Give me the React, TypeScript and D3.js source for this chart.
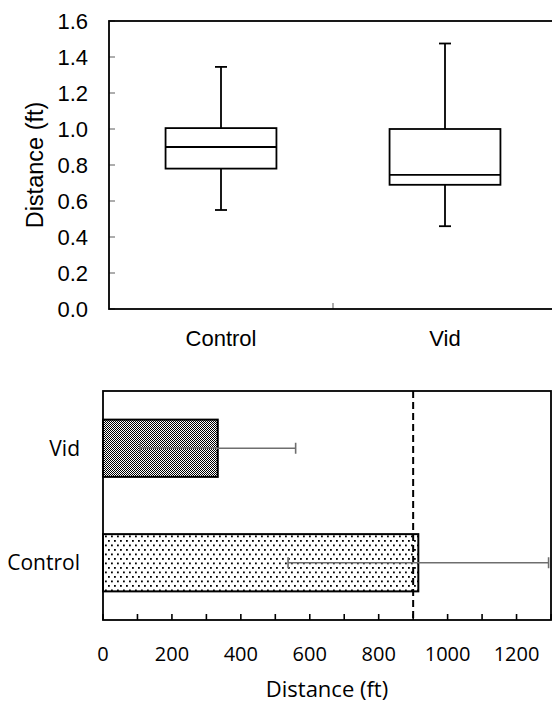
import React from 'react';
import * as d3 from 'd3';

// box plot (top): distance per group
const boxGroups = ['Control', 'Vid'];
const boxLow = [0.55, 0.46];
const boxQ1 = [0.78, 0.69];
const boxMedian = [0.9, 0.745];
const boxQ3 = [1.005, 1.0];
const boxHigh = [1.345, 1.475];
const boxTicks = [0, 0.2, 0.4, 0.6, 0.8, 1.0, 1.2, 1.4, 1.6];

// bar chart (bottom): mean distance with error
const barGroups = ['Vid', 'Control'];
const barMeans = [333, 915];
const barErrors = [226, 378];
const barTicks = [0, 200, 400, 600, 800, 1000, 1200];
const barMinorTicks = [0, 100, 200, 300, 400, 500, 600, 700, 800, 900, 1000, 1100, 1200, 1300];
const refLine = 900;

const W = 552;
const H = 704;

export default function App() {
  // ---- top chart
  const top = { left: 109, right: 557, top: 21, bottom: 309 };
  const y = d3.scaleLinear().domain([0, 1.6]).range([top.bottom, top.top]);
  const x = d3.scaleBand().domain(boxGroups).range([top.left, top.right]);
  const boxW = x.bandwidth() * 0.495;
  const capW = 12;

  // ---- bottom chart
  const bot = { left: 103, right: 551, top: 391, bottom: 620 };
  const bx = d3.scaleLinear().domain([0, 1300]).range([bot.left, bot.right]);
  const by = d3.scaleBand().domain(barGroups).range([bot.top, bot.bottom])
    .paddingInner(0.5).paddingOuter(0.25);
  const errCap = 11;

  const topFont = '"Liberation Sans", Arial, sans-serif';
  const botFont = '"Open Sans", sans-serif';

  return (
    <div style={{ position: 'absolute', left: 0, top: 0 }}>
      <svg width={W} height={H} style={{ display: 'block', background: '#fff' }}>
        <defs>
          <pattern id="checker" width={2} height={2} patternUnits="userSpaceOnUse">
            <rect width={2} height={2} fill="#fff" />
            <rect width={1} height={1} fill="#000" />
            <rect x={1} y={1} width={1} height={1} fill="#000" />
          </pattern>
          <pattern id="dots" width={6} height={9} patternUnits="userSpaceOnUse">
            <rect width={6} height={9} fill="#fff" />
            <rect x={0} y={0} width={1.8} height={1.8} fill="#000" />
            <rect x={3} y={4.5} width={1.8} height={1.8} fill="#000" />
          </pattern>
        </defs>

        {/* ===== top: box plot ===== */}
        <g fontFamily={topFont} fontSize={22} fill="#000">
          {boxTicks.map((t) => (
            <g key={t}>
              <line x1={top.left} x2={top.left + 6} y1={y(t)} y2={y(t)} stroke="#777" strokeWidth={1.2} />
              <text x={88} y={y(t)} dy="0.35em" textAnchor="end">{t.toFixed(1)}</text>
            </g>
          ))}
          <line
            x1={x('Vid')} x2={x('Vid')} y1={top.bottom} y2={top.bottom - 6}
            stroke="#777" strokeWidth={1.2}
          />
          <rect
            x={top.left} y={top.top} width={top.right - top.left} height={top.bottom - top.top}
            fill="none" stroke="#000" strokeWidth={1.8}
          />
          {boxGroups.map((g, i) => {
            const cx = (x(g) as number) + x.bandwidth() / 2;
            return (
              <g key={g} stroke="#000" strokeWidth={1.8} fill="none">
                <line x1={cx} x2={cx} y1={y(boxHigh[i])} y2={y(boxQ3[i])} />
                <line x1={cx} x2={cx} y1={y(boxQ1[i])} y2={y(boxLow[i])} />
                <line x1={cx - capW / 2} x2={cx + capW / 2} y1={y(boxHigh[i])} y2={y(boxHigh[i])} />
                <line x1={cx - capW / 2} x2={cx + capW / 2} y1={y(boxLow[i])} y2={y(boxLow[i])} />
                <rect
                  x={cx - boxW / 2} y={y(boxQ3[i])} width={boxW}
                  height={y(boxQ1[i]) - y(boxQ3[i])} fill="#fff"
                />
                <line x1={cx - boxW / 2} x2={cx + boxW / 2} y1={y(boxMedian[i])} y2={y(boxMedian[i])} />
                <text
                  x={cx} y={346} textAnchor="middle" stroke="none" fill="#000"
                >{g}</text>
              </g>
            );
          })}
          <text
            transform={`translate(43,${(top.top + top.bottom) / 2}) rotate(-90)`}
            textAnchor="middle" fontSize={23.5}
          >Distance (ft)</text>
        </g>

        {/* ===== bottom: bar chart ===== */}
        <g fontFamily={botFont} fontSize={20} fill="#000">
          {barGroups.map((g, i) => (
            <rect
              key={g}
              x={bx(0)} y={by(g)} width={bx(barMeans[i]) - bx(0)} height={by.bandwidth()}
              fill={g === 'Vid' ? 'url(#checker)' : 'url(#dots)'}
              stroke="#000" strokeWidth={2}
            />
          ))}
          <line
            x1={bx(refLine)} x2={bx(refLine)} y1={bot.top} y2={bot.bottom}
            stroke="#000" strokeWidth={2} strokeDasharray="7,4"
          />
          {barGroups.map((g, i) => {
            const cy = (by(g) as number) + by.bandwidth() / 2;
            const lo = bx(barMeans[i] - barErrors[i]);
            const hi = bx(barMeans[i] + barErrors[i]);
            return (
              <g key={g} stroke="#6e6e6e" strokeWidth={1.6}>
                <line x1={lo} x2={hi} y1={cy} y2={cy} />
                <line x1={lo} x2={lo} y1={cy - errCap / 2} y2={cy + errCap / 2} />
                <line x1={hi} x2={hi} y1={cy - errCap / 2} y2={cy + errCap / 2} />
                <text x={80} y={cy} dy="0.35em" textAnchor="end" stroke="none" fill="#000" fontSize={21}>{g}</text>
              </g>
            );
          })}
          {barMinorTicks.map((t) => (
            <line key={t} x1={bx(t)} x2={bx(t)} y1={bot.bottom} y2={bot.bottom - 6} stroke="#000" strokeWidth={1.6} />
          ))}
          {barTicks.map((t) => (
            <text key={t} x={bx(t)} y={654} dy="0.35em" textAnchor="middle">{t}</text>
          ))}
          <rect
            x={bot.left} y={bot.top} width={bot.right - bot.left} height={bot.bottom - bot.top}
            fill="none" stroke="#000" strokeWidth={1.8}
          />
          <text x={(bot.left + bot.right) / 2} y={689} dy="0.35em" textAnchor="middle" fontSize={22}>Distance (ft)</text>
        </g>
      </svg>
    </div>
  );
}
